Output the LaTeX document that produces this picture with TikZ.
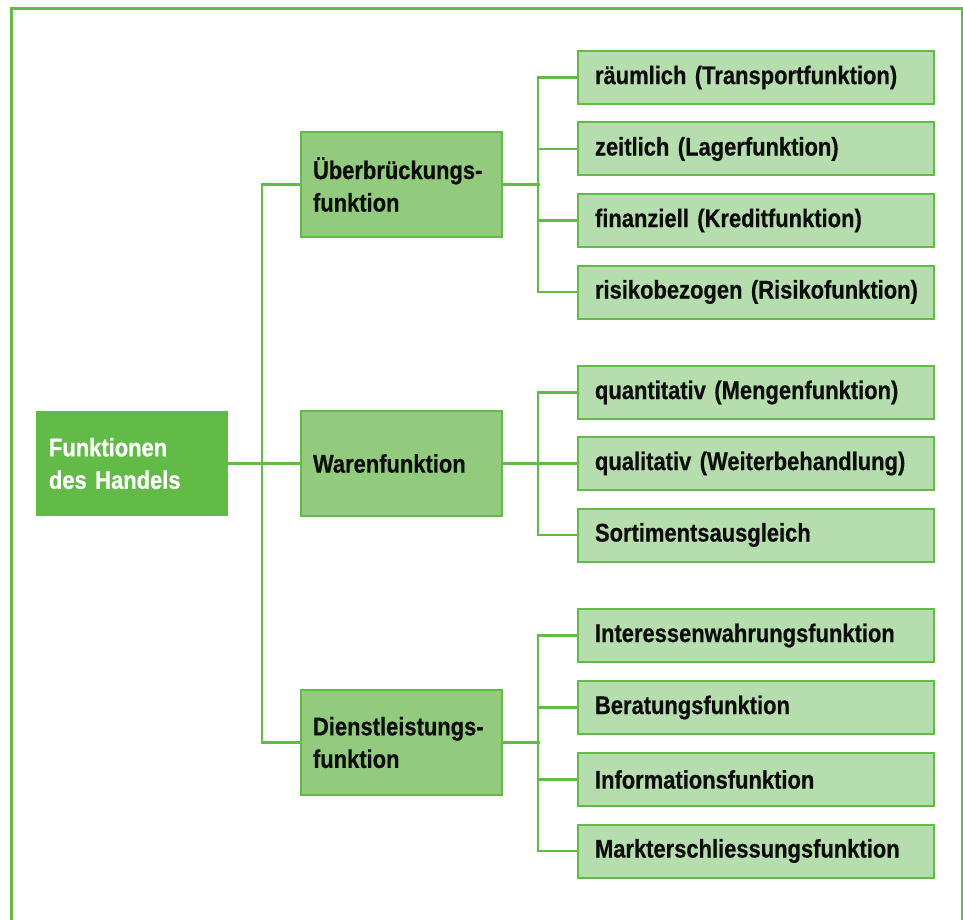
\documentclass[tikz,border=0pt]{standalone}
\usepackage{fontspec}
\newfontfamily\cond{Liberation Sans}[FakeStretch=0.86, WordSpace=0.75, BoldFeatures={FakeBold=0.6}]
\definecolor{gdark}{HTML}{62BB47}
\definecolor{gmid}{HTML}{93CB7E}
\definecolor{glight}{HTML}{B6DDAD}
\begin{document}
\begin{tikzpicture}[x=1pt,y=-1pt,
  every node/.style={font=\cond\bfseries\fontsize{25.5}{32.5}\selectfont, text=black!95},
  rootbox/.style={fill=gdark, text=white, minimum width=192, minimum height=105,
    text width=166, inner xsep=13, align=left},
  midbox/.style={fill=gmid, draw=gdark, line width=2, minimum width=201, minimum height=105,
    text width=177, inner xsep=12, align=left},
  leafbox/.style={fill=glight, draw=gdark, line width=2, minimum width=356, minimum height=53,
    text width=322, inner xsep=17, align=left},
  conn/.style={draw=gdark, line width=2.2}]
\useasboundingbox (0,0) rectangle (963,920);
% frame
\draw[gdark, line width=3] (11.3,920) -- (11.3,8.3) -- (962,8.3) -- (962,920);

% root
\node[rootbox] (root) at (132,463.5) {Funktionen\\des Handels};

% second level
\node[midbox] (ueb) at (401.5,184.5) {Überbrückungs-\\funktion};
\node[midbox] (ware) at (401.5,463.5) {Warenfunktion};
\node[midbox] (dienst) at (401.5,742.5) {Dienstleistungs-\\funktion};

% leaves (each label kept on one line)
\node[leafbox] (a1) at (756,77.5) {\mbox{räumlich (Transportfunktion)}};
\node[leafbox] (a2) at (756,149) {\mbox{zeitlich (Lagerfunktion)}};
\node[leafbox] (a3) at (756,220.5) {\mbox{finanziell (Kreditfunktion)}};
\node[leafbox] (a4) at (756,292) {\mbox{risikobezogen (Risikofunktion)}};

\node[leafbox] (b1) at (756,392.5) {\mbox{quantitativ (Mengenfunktion)}};
\node[leafbox] (b2) at (756,463.5) {\mbox{qualitativ (Weiterbehandlung)}};
\node[leafbox] (b3) at (756,535) {\mbox{Sortimentsausgleich}};

\node[leafbox] (c1) at (756,635.5) {\mbox{Interessenwahrungsfunktion}};
\node[leafbox] (c2) at (756,707.5) {\mbox{Beratungsfunktion}};
\node[leafbox] (c3) at (756,779.5) {\mbox{Informationsfunktion}};
\node[leafbox] (c4) at (756,851) {\mbox{Markterschliessungsfunktion}};

% connectors root -> second level
\draw[conn] (root.east) -- (ware.west);
\draw[conn] (ueb.west) -- ++(-38,0) |- (dienst.west);

% connectors second level -> leaves
\draw[conn] (ueb.east) -- ++(37,0);
\draw[conn] (a1.west) -- ++(-39,0) |- (a4.west);
\draw[conn] (a2.west) -- ++(-39,0);
\draw[conn] (a3.west) -- ++(-39,0);

\draw[conn] (ware.east) -- (b2.west);
\draw[conn] (b1.west) -- ++(-39,0) |- (b3.west);

\draw[conn] (dienst.east) -- ++(37,0);
\draw[conn] (c1.west) -- ++(-39,0) |- (c4.west);
\draw[conn] (c2.west) -- ++(-39,0);
\draw[conn] (c3.west) -- ++(-39,0);
\end{tikzpicture}
\end{document}
